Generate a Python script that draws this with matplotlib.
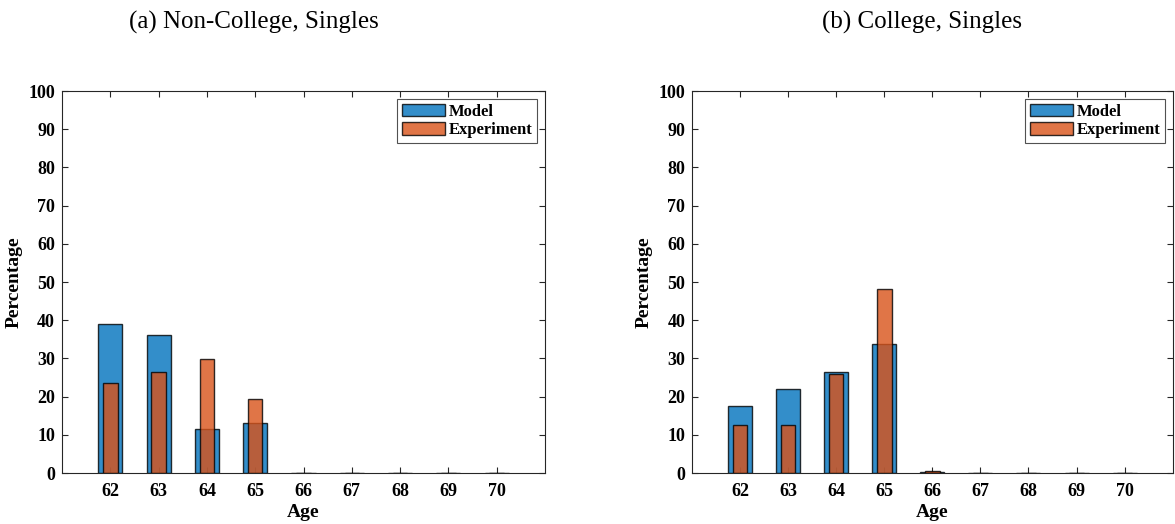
import matplotlib
matplotlib.use('Agg')
from matplotlib import pyplot as plt
import numpy as np

ages = [62, 63, 64, 65, 66, 67, 68, 69, 70]

# (a) Non-College, Singles
model_nc      = [39.0, 36.0, 11.5, 13.0, 0.1, 0.1, 0.1, 0.0, 0.0]
experiment_nc = [23.6, 26.4, 29.9, 19.5, 0.0, 0.0, 0.0, 0.0, 0.0]

# (b) College, Singles
model_c      = [17.5, 22.0, 26.4, 33.7, 0.2, 0.1, 0.1, 0.0, 0.0]
experiment_c = [12.6, 12.5, 25.8, 48.1, 0.4, 0.1, 0.0, 0.0, 0.0]

titles = ['(a) Non-College, Singles', '(b) College, Singles']
yticks = list(range(0, 101, 10))

plt.rcParams['font.family'] = ['Liberation Serif', 'DejaVu Serif']

color_b = (0/255, 114/255, 189/255)
color_o = (217/255, 83/255, 25/255)
axis_col = '#262626'

tick_size   = 13
label_size  = 14
legend_size = 12
title_size  = 18

f = plt.figure(figsize=(11.75, 5.24), dpi=100)
ax_l = f.add_axes([0.0528, 0.0973, 0.411, 0.729])
ax_r = f.add_axes([0.589, 0.0973, 0.409, 0.729])

panels = [(ax_l, model_nc, experiment_nc), (ax_r, model_c, experiment_c)]
for ax, model, exper in panels:
    ax.bar(ages, model, 0.5, color=color_b, alpha=0.8, edgecolor='black',
           linewidth=1.0, label='Model', zorder=2)
    ax.bar(ages, exper, 0.3, color=color_o, alpha=0.8, edgecolor='black',
           linewidth=1.0, label='Experiment', zorder=3)
    ax.set_xlim(61, 71)
    ax.set_ylim(0, 100)
    ax.set_xticks(ages)
    ax.set_yticks(yticks)
    ax.set_xticklabels([str(a) for a in ages], fontsize=tick_size, weight='bold')
    ax.set_yticklabels([str(t) for t in yticks], fontsize=tick_size, weight='bold')
    ax.tick_params(direction='in', top=True, right=True, length=4,
                   color=axis_col)
    ax.tick_params(axis='x', pad=7)
    ax.tick_params(axis='y', pad=5)
    for s in ['top', 'bottom', 'left', 'right']:
        ax.spines[s].set_color(axis_col)
        ax.spines[s].set_linewidth(0.8)
    ax.set_xlabel('Age', fontsize=label_size, weight='bold', labelpad=3)
    ax.set_ylabel('Percentage', fontsize=label_size, weight='bold', labelpad=4)
    leg = ax.legend(loc='upper right', frameon=True,
                    fancybox=False, borderaxespad=0.45, handlelength=2.6,
                    handleheight=0.8, handletextpad=0.2, borderpad=0.3,
                    labelspacing=0.15, prop={'weight': 'bold', 'size': legend_size})
    leg.get_frame().set_edgecolor(axis_col)
    leg.get_frame().set_linewidth(0.8)

f.text(254/1175, 0.958, titles[0], ha='center', va='center', fontsize=title_size)
f.text(922/1175, 0.958, titles[1], ha='center', va='center', fontsize=title_size)

f.savefig('out.png', dpi=100)
